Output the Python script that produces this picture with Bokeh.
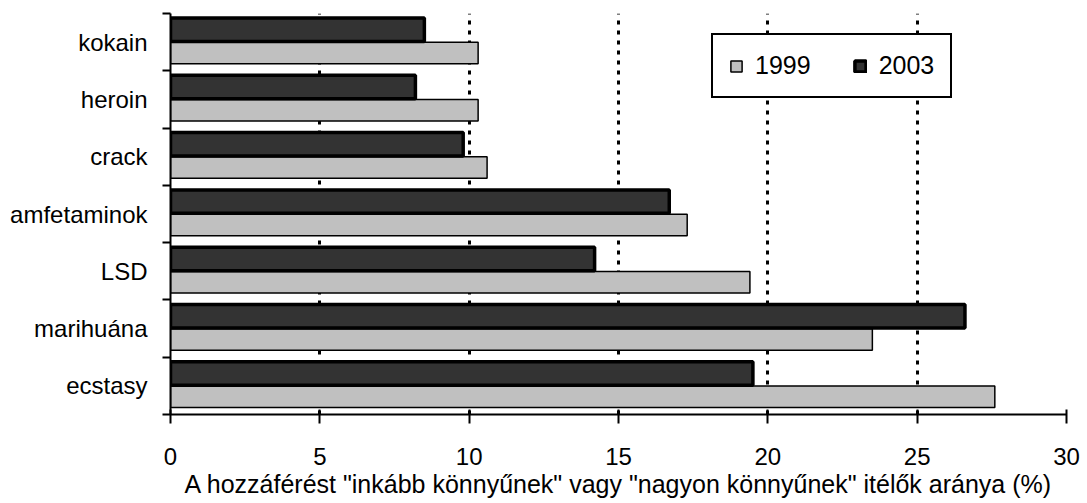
from bokeh.plotting import figure
from bokeh.models import (ColumnDataSource, FixedTicker, Range1d, Legend, LegendItem)
from bokeh.embed import file_html
from bokeh.resources import INLINE

# Data (bottom to top)
categories = ["ecstasy", "marihuána", "LSD", "amfetaminok", "crack", "heroin", "kokain"]
v1999 = [27.6, 23.5, 19.4, 17.3, 10.6, 10.3, 10.3]
v2003 = [19.5, 26.6, 14.2, 16.7, 9.8, 8.2, 8.5]
x_ticks = [0, 5, 10, 15, 20, 25, 30]
x_label = 'A hozzáférést "inkább könnyűnek" vagy "nagyon könnyűnek" itélők aránya (%)'

FONT = "Liberation Sans"

centers = [i + 0.5 for i in range(len(categories))]
bounds = [i for i in range(len(categories) + 1)]

src99 = ColumnDataSource(dict(y=[c - 0.19 for c in centers], right=v1999))
src03 = ColumnDataSource(dict(y=[c + 0.216 for c in centers], right=v2003))

p = figure(width=1087, height=503, output_backend="svg", toolbar_location=None,
           x_range=Range1d(0, 30), y_range=Range1d(0, len(categories)),
           min_border_left=170, min_border_right=21, min_border_top=13, min_border_bottom=89)
p.outline_line_color = None
p.background_fill_color = "white"
p.border_fill_color = "white"

r99 = p.hbar(y="y", left=0, right="right", height=0.375, source=src99,
             fill_color="#c0c0c0", line_color="black", line_width=1.5)
r03 = p.hbar(y="y", left=0, right="right", height=0.41, source=src03,
             fill_color="#333333", line_color="black", line_width=3.5)

# x axis
p.xaxis.ticker = FixedTicker(ticks=x_ticks)
p.xaxis.axis_label = x_label
p.xaxis.axis_label_text_font = FONT
p.xaxis.axis_label_text_font_size = "25px"
p.xaxis.axis_label_text_font_style = "normal"
p.xaxis.axis_label_text_color = "black"
p.xaxis.axis_label_standoff = 2
p.xaxis.major_label_text_font = FONT
p.xaxis.major_label_text_font_size = "24px"
p.xaxis.major_label_text_color = "black"
p.xaxis.major_label_standoff = 24
p.xaxis.axis_line_width = 2
p.xaxis.axis_line_color = "black"
p.xaxis.major_tick_line_width = 2
p.xaxis.major_tick_line_color = "black"
p.xaxis.major_tick_in = 5
p.xaxis.major_tick_out = 9
p.xaxis.minor_tick_line_color = None

# y axis
p.yaxis.ticker = FixedTicker(ticks=centers, minor_ticks=bounds)
p.yaxis.major_label_overrides = {c: name for c, name in zip(centers, categories)}
p.yaxis.major_label_text_font = FONT
p.yaxis.major_label_text_font_size = "24px"
p.yaxis.major_label_text_color = "black"
p.yaxis.major_label_standoff = 15
p.yaxis.axis_line_width = 2
p.yaxis.axis_line_color = "black"
p.yaxis.major_tick_line_color = None
p.yaxis.minor_tick_line_color = "black"
p.yaxis.minor_tick_line_width = 2
p.yaxis.minor_tick_in = 0
p.yaxis.minor_tick_out = 8

# grids
p.xgrid.ticker = FixedTicker(ticks=x_ticks)
p.xgrid.grid_line_color = "black"
p.xgrid.grid_line_width = 3
p.xgrid.grid_line_dash = "4 6"
p.ygrid.grid_line_color = None

legend = Legend(items=[LegendItem(label="1999", renderers=[r99]),
                       LegendItem(label="2003", renderers=[r03])],
                location=(541, 316), orientation="horizontal")
legend.label_text_font = FONT
legend.label_text_font_size = "25px"
legend.label_text_color = "black"
legend.glyph_width = 14
legend.glyph_height = 14
legend.label_standoff = 12
legend.spacing = 42
legend.padding = 16
legend.margin = 0
legend.border_line_color = "black"
legend.border_line_width = 2
legend.border_line_alpha = 1
legend.background_fill_color = "white"
legend.background_fill_alpha = 1
p.add_layout(legend, "center")

open("out.html", "w").write(file_html(p, INLINE))
